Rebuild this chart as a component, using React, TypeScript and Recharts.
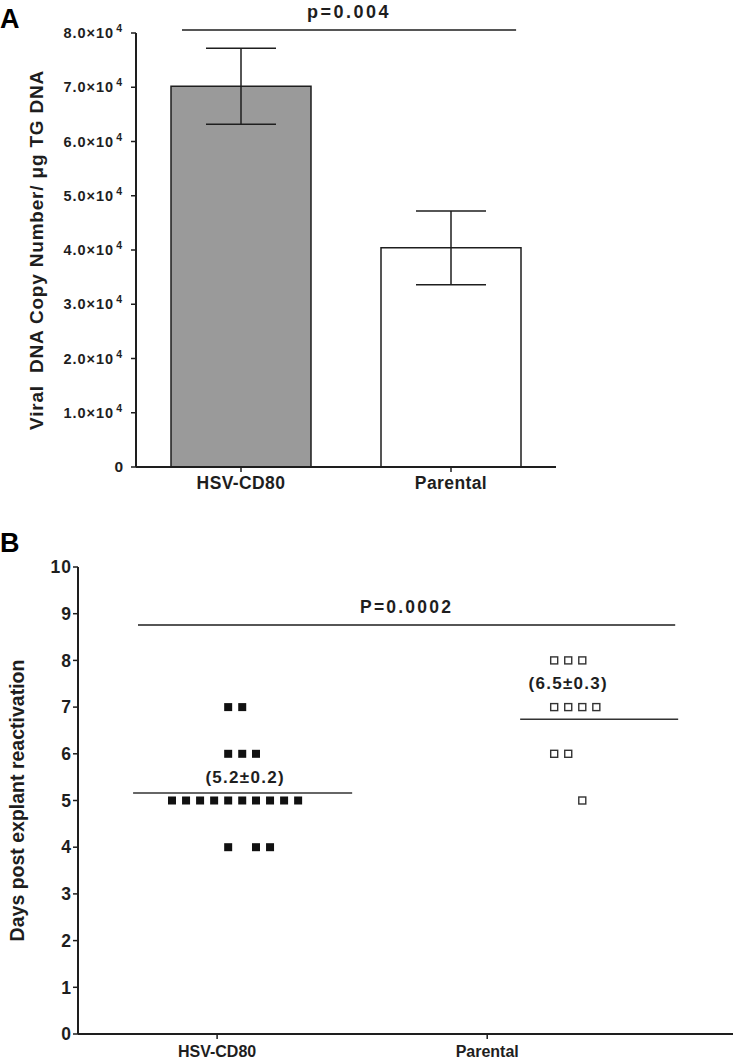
import React from "react";
import {
  BarChart,
  Bar,
  XAxis,
  YAxis,
  ErrorBar,
  Cell,
  ReferenceLine,
  ReferenceDot,
  ScatterChart,
  Scatter,
  Label,
} from "recharts";

const font = '"Liberation Sans", Arial, Helvetica, sans-serif';
const ink = "#1e1e1e";

// Panel A - viral DNA copy number
const groups = ["HSV-CD80", "Parental"];
const groupPositions = [1, 2];
const copyNumber = [70200, 40400];
const copyNumberSem = [7000, 6800];
const barFills = ["#9a9a9a", "#ffffff"];
const copyTicks = [0, 10000, 20000, 30000, 40000, 50000, 60000, 70000, 80000];
const pValueA = "p=0.004";

// Panel B - days to explant reactivation (x = group position + spread)
const hsvDays = [7, 7, 6, 6, 6, 5, 5, 5, 5, 5, 5, 5, 5, 5, 5, 4, 4, 4];
const hsvSpread = [
  1.041, 1.093, 1.041, 1.093, 1.144, 0.833, 0.885, 0.937, 0.989, 1.041, 1.093,
  1.144, 1.196, 1.248, 1.3, 1.041, 1.144, 1.196,
];
const parentalDays = [8, 8, 8, 7, 7, 7, 7, 6, 6, 5];
const parentalSpread = [2.248, 2.3, 2.352, 2.248, 2.3, 2.352, 2.404, 2.248, 2.3, 2.352];
const dayTicks = [0, 1, 2, 3, 4, 5, 6, 7, 8, 9, 10];
const groupMeans = [5.16, 6.74];
const meanLabels = ["(5.2\u00b10.2)", "(6.5\u00b10.3)"];
const pValueB = "P=0.0002";

const barData = groups.map((g, i) => ({
  group: g,
  pos: groupPositions[i],
  copies: copyNumber[i],
  sem: copyNumberSem[i],
}));
const hsvPoints = hsvDays.map((d, i) => ({ x: hsvSpread[i], y: d }));
const parentalPoints = parentalDays.map((d, i) => ({ x: parentalSpread[i], y: d }));

const PowerTick = (props: any) => {
  const { x, y, payload } = props;
  const v = payload.value as number;
  const style = { fontFamily: font, fontWeight: 700, fill: ink };
  if (v === 0) {
    return (
      <text x={x} y={y} dy={5} textAnchor="end" fontSize={15.5} style={style}>
        0
      </text>
    );
  }
  return (
    <text x={x} y={y} dy={5} textAnchor="end" fontSize={14.5} letterSpacing={1} style={style}>
      <tspan>{(v / 10000).toFixed(1)}×10</tspan>
      <tspan dx={2} dy={-6} fontSize={10.5}>
        4
      </tspan>
    </text>
  );
};

const AxisTitle = (props: any) => {
  const { viewBox, text, x, size, spacing } = props;
  const cy = viewBox.y + viewBox.height / 2;
  return (
    <text
      x={x}
      y={cy}
      transform={`rotate(-90 ${x} ${cy})`}
      textAnchor="middle"
      dominantBaseline="central"
      fontSize={size}
      fontWeight={700}
      letterSpacing={spacing}
      fill={ink}
      style={{ fontFamily: font, whiteSpace: "pre" }}
    >
      {text}
    </text>
  );
};

const FilledSquare = (props: any) => (
  <rect x={props.cx - 4} y={props.cy - 4} width={8} height={8} fill="#111" />
);

const OpenSquare = (props: any) => (
  <rect
    x={props.cx - 3.5}
    y={props.cy - 3.5}
    width={7}
    height={7}
    fill="#fff"
    stroke="#333"
    strokeWidth={1.4}
  />
);

const panelLetter = (top: number): React.CSSProperties => ({
  position: "absolute",
  left: 0,
  top,
  fontFamily: font,
  fontWeight: 700,
  fontSize: 27,
  color: "#000",
  lineHeight: 1,
});

const noteStyle = (size: number, spacing: number) => ({
  fill: ink,
  fontSize: size,
  fontWeight: 700,
  fontFamily: font,
  letterSpacing: spacing,
});

export default function App() {
  const tickText = { fill: ink, fontFamily: font, fontWeight: 700 };
  return (
    <div
      style={{
        position: "absolute",
        left: 0,
        top: 0,
        width: 733,
        height: 1061,
        background: "#fff",
        overflow: "hidden",
      }}
    >
      <div style={panelLetter(6)}>A</div>
      <div style={panelLetter(530)}>B</div>

      <div style={{ position: "absolute", left: 0, top: 0 }}>
        <BarChart
          width={733}
          height={500}
          data={barData}
          margin={{ top: 33, right: 177, bottom: 0, left: 0 }}
        >
          <XAxis
            dataKey="pos"
            type="number"
            domain={[0.5, 2.5]}
            allowDataOverflow
            ticks={groupPositions}
            tickFormatter={(v: number) => groups[v - 1]}
            height={33}
            axisLine={{ stroke: ink, strokeWidth: 2 }}
            tickLine={{ stroke: ink, strokeWidth: 1.5 }}
            tickSize={5}
            tickMargin={5}
            tick={{ ...tickText, fontSize: 17.5, letterSpacing: 0.4 }}
          />
          <YAxis
            width={136}
            domain={[0, 80000]}
            ticks={copyTicks}
            interval={0}
            axisLine={{ stroke: ink, strokeWidth: 2 }}
            tickLine={{ stroke: ink, strokeWidth: 1.5 }}
            tickSize={5}
            tickMargin={8}
            tick={<PowerTick />}
          >
            <Label
              content={(p: any) => (
                <AxisTitle
                  {...p}
                  x={36}
                  size={19}
                  spacing={0.8}
                  text={"Viral  DNA Copy Number/ \u03bcg TG DNA"}
                />
              )}
            />
          </YAxis>
          <Bar dataKey="copies" barSize={140} stroke={ink} strokeWidth={1.5} isAnimationActive={false}>
            {barData.map((d, i) => (
              <Cell key={d.group} fill={barFills[i]} />
            ))}
            <ErrorBar dataKey="sem" width={35} stroke={ink} strokeWidth={1.5} direction="y" />
          </Bar>
          <ReferenceLine
            ifOverflow="visible"
            segment={[
              { x: 0.719, y: 80550 },
              { x: 2.31, y: 80550 },
            ]}
            stroke={ink}
            strokeWidth={1.5}
            label={{ value: pValueA, position: "top", offset: 12, ...noteStyle(18, 2.5) }}
          />
        </BarChart>
      </div>

      <div style={{ position: "absolute", left: 0, top: 500 }}>
        <ScatterChart
          width={733}
          height={561}
          margin={{ top: 67, right: 0, bottom: 0, left: 0 }}
        >
          <XAxis
            dataKey="x"
            type="number"
            domain={[0.485, 2.91]}
            allowDataOverflow
            ticks={groupPositions}
            tickFormatter={(v: number) => groups[v - 1]}
            height={27}
            axisLine={{ stroke: ink, strokeWidth: 2 }}
            tickLine={{ stroke: ink, strokeWidth: 1.5 }}
            tickSize={5}
            tickMargin={7}
            tick={{ ...tickText, fontSize: 16 }}
          />
          <YAxis
            dataKey="y"
            type="number"
            width={78}
            domain={[0, 10]}
            ticks={dayTicks}
            interval={0}
            axisLine={{ stroke: ink, strokeWidth: 2 }}
            tickLine={{ stroke: ink, strokeWidth: 1.5 }}
            tickSize={5}
            tickMargin={1}
            tick={{ ...tickText, fontSize: 17.5, letterSpacing: 1 }}
          >
            <Label
              content={(p: any) => (
                <AxisTitle {...p} x={17} size={19.5} spacing={0} text="Days post explant reactivation" />
              )}
            />
          </YAxis>
          <ReferenceLine
            ifOverflow="visible"
            segment={[
              { x: 0.707, y: 8.76 },
              { x: 2.696, y: 8.76 },
            ]}
            stroke={ink}
            strokeWidth={1.5}
            label={{ value: pValueB, position: "top", offset: 12, ...noteStyle(17.5, 2.2) }}
          />
          <ReferenceLine
            segment={[
              { x: 0.689, y: groupMeans[0] },
              { x: 1.5, y: groupMeans[0] },
            ]}
            stroke="#333"
            strokeWidth={1.5}
          />
          <ReferenceLine
            segment={[
              { x: 2.122, y: groupMeans[1] },
              { x: 2.707, y: groupMeans[1] },
            ]}
            stroke="#333"
            strokeWidth={1.5}
          />
          <ReferenceDot
            x={1.104}
            y={5.5}
            r={0}
            fill="none"
            stroke="none"
            label={{ value: meanLabels[0], position: "center", ...noteStyle(17, 1.3) }}
          />
          <ReferenceDot
            x={2.3}
            y={7.52}
            r={0}
            fill="none"
            stroke="none"
            label={{ value: meanLabels[1], position: "center", ...noteStyle(17, 1.3) }}
          />
          <Scatter data={hsvPoints} shape={<FilledSquare />} isAnimationActive={false} />
          <Scatter data={parentalPoints} shape={<OpenSquare />} isAnimationActive={false} />
        </ScatterChart>
      </div>
    </div>
  );
}
